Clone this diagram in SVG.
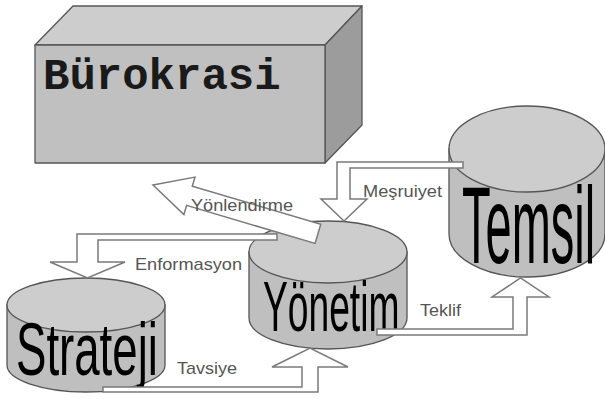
<svg xmlns="http://www.w3.org/2000/svg" width="605" height="399" viewBox="0 0 605 399">
  <style>
    .face { stroke: #555; stroke-width: 1.3; stroke-linejoin: round; }
    .top { fill: #cdcdcd; }
    .front { fill: #c0c0c0; }
    .side { fill: #9c9c9c; }
    .cyl-side { fill: #bfbfbf; stroke: #555; stroke-width: 1.3; }
    .cyl-top { fill: #cdcdcd; stroke: #555; stroke-width: 1.3; }
    .big { font-family: "Liberation Sans", Arial, sans-serif; font-size: 40px; fill: #000; }
    .big-l { font-family: "Liberation Sans", Arial, sans-serif; font-size: 50px; fill: #000; }
    .arrow { fill: #fff; stroke: #7a7a7a; stroke-width: 1.5; stroke-linejoin: miter; }
    .label { font-family: "Liberation Sans", Arial, sans-serif; font-size: 17px; fill: #555; }
  </style>

  <!-- Bürokrasi box -->
  <g id="burokrasi">
    <polygon class="face top" points="35,45 73,6 362,6 325,45"/>
    <polygon class="face side" points="325,45 362,6 362,125 325,163"/>
    <rect class="face front" x="35" y="45" width="290" height="118"/>
    <text x="43" y="89" font-family="'Liberation Mono', 'Courier New', monospace" font-weight="bold" font-size="44" fill="#1a1a1a">Bürokrasi</text>
  </g>

  <!-- Temsil cylinder -->
  <g id="temsil">
    <path class="cyl-side" d="M449,149 L449,234 A78,43 0 0 0 605,234 L605,149 Z"/>
    <ellipse class="cyl-top" cx="527" cy="149" rx="78" ry="43"/>
    <text class="big-l" transform="translate(462,263) scale(0.94,2.18)">Temsil</text>
  </g>

  <!-- Yönetim cylinder -->
  <g id="yonetim">
    <path class="cyl-side" d="M249,252 L249,318 A79,31 0 0 0 407,318 L407,252 Z"/>
    <ellipse class="cyl-top" cx="328" cy="252" rx="79" ry="31"/>
    <text class="big" transform="translate(263,331) scale(0.93,1.75)">Yönetim</text>
  </g>

  <!-- Strateji cylinder -->
  <g id="strateji">
    <path class="cyl-side" d="M7,305 L7,365 A79,27 0 0 0 165,365 L165,305 Z"/>
    <ellipse class="cyl-top" cx="86" cy="305" rx="79" ry="27"/>
    <text class="big" transform="translate(16,375) scale(1.14,1.85)">Strateji</text>
  </g>

  <!-- connectors -->
  <g id="connectors">
    <!-- Yönlendirme: Yönetim to Bürokrasi -->
    <polygon class="arrow" transform="translate(153,185) rotate(16.5)" points="0,0 38,-19.5 38,-10 172,-10 172,10 38,10 38,19.5"/>
    <!-- Enformasyon: Yönetim to Strateji -->
    <polygon class="arrow" points="277,234 77,234 77,262 50,262 87.5,278 125,262 98,262 98,240 277,240"/>
    <!-- Meşruiyet: Temsil to Yönetim -->
    <polygon class="arrow" points="463,162 337,162 337,199 321,199 344,221 367,199 350,199 350,168 463,168"/>
    <!-- Tavsiye: Strateji to Yönetim -->
    <polygon class="arrow" points="103,387 302,387 302,367 272,367 310,348 348,367 318,367 318,392 103,392"/>
    <!-- Teklif: Yönetim to Temsil -->
    <polygon class="arrow" points="377,329 513,329 513,297 492,297 520.5,278 549,297 527,297 527,335 377,335"/>
  </g>

  <!-- connector labels -->
  <g id="labels">
    <text class="label" x="191" y="211" textLength="102" lengthAdjust="spacingAndGlyphs">Yönlendirme</text>
    <text class="label" x="135" y="270" textLength="107" lengthAdjust="spacingAndGlyphs">Enformasyon</text>
    <text class="label" x="363" y="197" textLength="79" lengthAdjust="spacingAndGlyphs">Meşruiyet</text>
    <text class="label" x="177" y="374" textLength="60" lengthAdjust="spacingAndGlyphs">Tavsiye</text>
    <text class="label" x="420" y="316" textLength="41" lengthAdjust="spacingAndGlyphs">Teklif</text>
  </g>
</svg>
